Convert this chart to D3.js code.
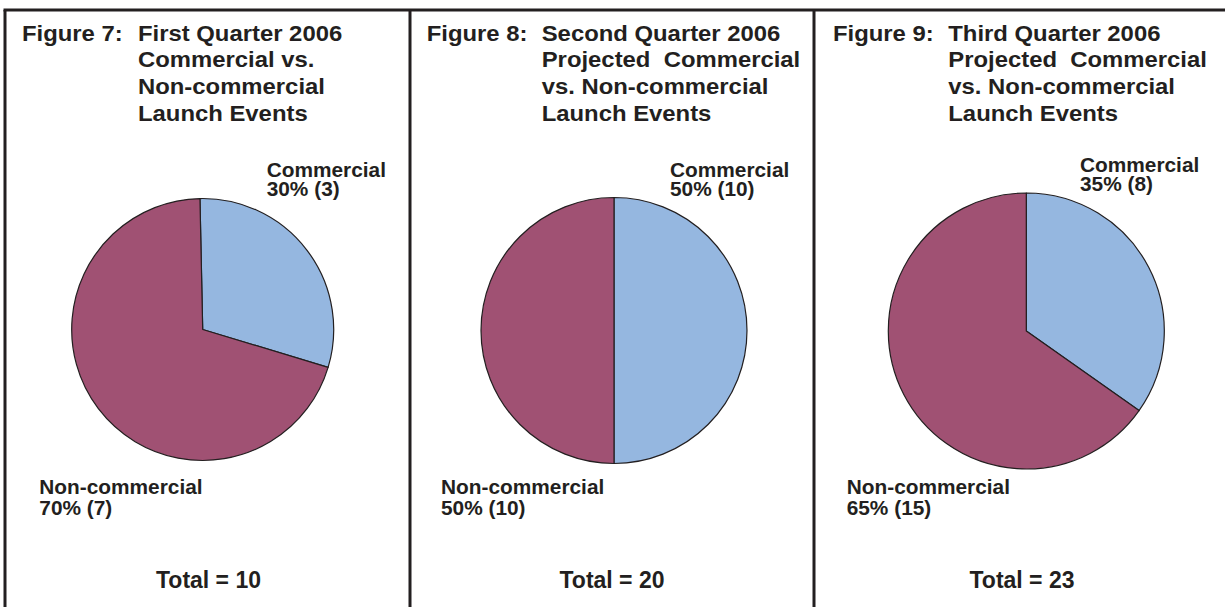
<!DOCTYPE html>
<html>
<head>
<meta charset="utf-8">
<script src="https://cdn.jsdelivr.net/npm/d3@7"></script>
<style>
  html, body { margin: 0; padding: 0; background: #fff; }
  svg text { font-family: "Liberation Sans", Arial, Helvetica, sans-serif; font-weight: bold; fill: #231f20; }
</style>
</head>
<body>
<svg id="chart" width="1225" height="607"></svg>
<script>
// ---- data ----
const figureLabels = ["Figure 7:", "Figure 8:", "Figure 9:"];
const titleLines = [
  ["First Quarter 2006", "Commercial vs.", "Non-commercial", "Launch Events"],
  ["Second Quarter 2006", "Projected  Commercial", "vs. Non-commercial", "Launch Events"],
  ["Third Quarter 2006", "Projected  Commercial", "vs. Non-commercial", "Launch Events"]
];
const categories = ["Commercial", "Non-commercial"];
const commercialCounts = [3, 10, 8];
const nonCommercialCounts = [7, 10, 15];
const commercialPct = [30, 50, 35];
const nonCommercialPct = [70, 50, 65];
const totals = [10, 20, 23];

// ---- layout (styles/positions) ----
const panelLeft = [5, 410, 814];
const pieCenter = [[202.7, 329.5], [614, 330.5], [1026.3, 331]];
const pieRadius = [131, 133, 138];
const pieStart = [-0.021, 0, 0];
const figX = [22, 426.7, 833];
const titleColX = [138, 541.7, 948.3];
const comLabelPos = [[266.7, 176.5], [670, 176.5], [1080, 171.5]];
const nonLabelPos = [[39.3, 494], [441, 494], [846.7, 494]];
const totalCX = [208.5, 612, 1022];

const color = d3.scaleOrdinal().domain(categories).range(["#95b7e0", "#a05173"]);
const svg = d3.select("#chart");

function stext(g, x, y, str, size, sx, anchor) {
  return g.append("text")
    .attr("transform", `translate(${x},${y}) scale(${sx},1)`)
    .attr("font-size", size)
    .attr("text-anchor", anchor || "start")
    .attr("xml:space", "preserve")
    .style("white-space", "pre")
    .text(str);
}

// borders
const borders = svg.append("g").attr("stroke", "#231f20").attr("stroke-width", 3);
borders.append("line").attr("x1", panelLeft[0] - 1.5).attr("x2", 1225).attr("y1", 10).attr("y2", 10);
panelLeft.forEach(x => {
  borders.append("line").attr("x1", x).attr("x2", x).attr("y1", 10).attr("y2", 607);
});

const arc = d3.arc();

for (let i = 0; i < 3; i++) {
  const g = svg.append("g");
  // titles
  stext(g, figX[i], 40.7, figureLabels[i], 21.5, 1.11);
  titleLines[i].forEach((t, j) => stext(g, titleColX[i], 40.7 + j * 26.7, t, 21.5, 1.11));

  // pie
  const data = [
    { cat: categories[0], v: commercialCounts[i] },
    { cat: categories[1], v: nonCommercialCounts[i] }
  ];
  const pie = d3.pie().sort(null).value(d => d.v)
    .startAngle(pieStart[i]).endAngle(pieStart[i] + 2 * Math.PI);
  const arcs = pie(data);
  g.append("g")
    .attr("transform", `translate(${pieCenter[i][0]},${pieCenter[i][1]})`)
    .selectAll("path").data(arcs).join("path")
    .attr("d", d => arc.innerRadius(0).outerRadius(pieRadius[i])(d))
    .attr("fill", d => color(d.data.cat))
    .attr("stroke", "#231f20")
    .attr("stroke-width", 1.2)
    .attr("stroke-linejoin", "round");

  // labels
  stext(g, comLabelPos[i][0], comLabelPos[i][1], categories[0], 19.3, 1.08);
  stext(g, comLabelPos[i][0], comLabelPos[i][1] + 19.5, `${commercialPct[i]}% (${commercialCounts[i]})`, 19.3, 1.08);
  stext(g, nonLabelPos[i][0], nonLabelPos[i][1], categories[1], 19.3, 1.08);
  stext(g, nonLabelPos[i][0], nonLabelPos[i][1] + 21, `${nonCommercialPct[i]}% (${nonCommercialCounts[i]})`, 19.3, 1.08);

  // total
  stext(g, totalCX[i], 587.7, `Total = ${totals[i]}`, 23, 1.0, "middle");
}
</script>
</body>
</html>
